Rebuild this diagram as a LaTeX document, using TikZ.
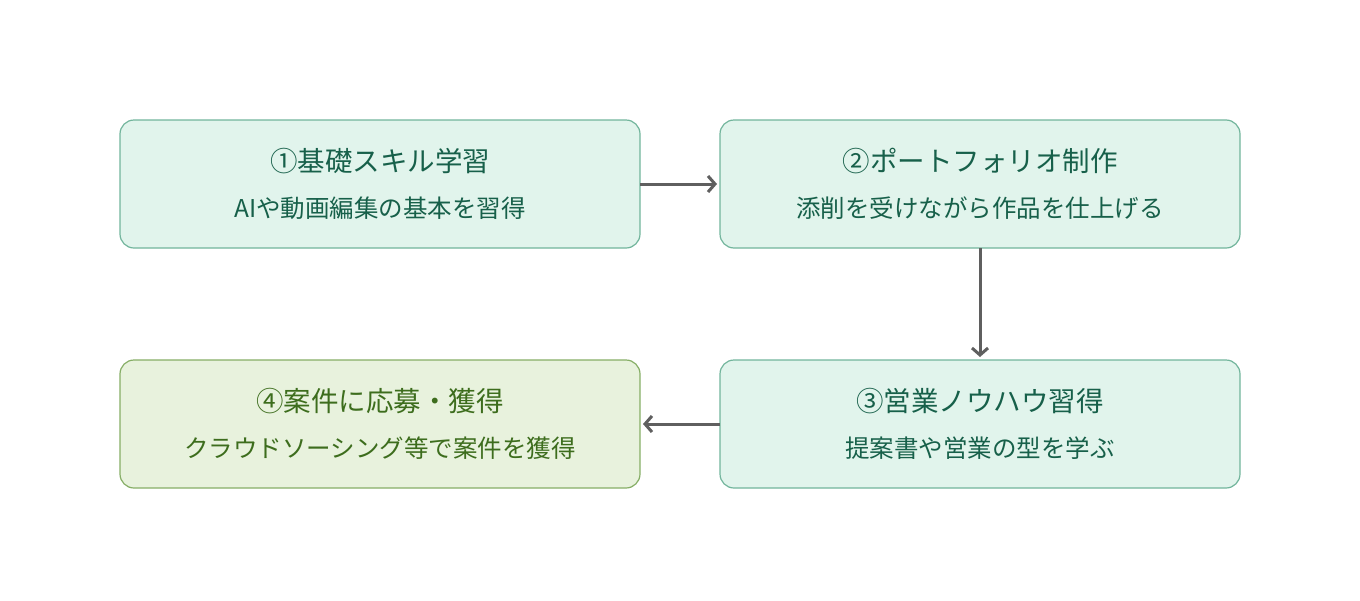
\documentclass[tikz,border=0pt]{standalone}
\usepackage{fontspec}
\setmainfont{Noto Sans CJK JP}
\usepackage{tikz}
\usetikzlibrary{arrows.meta,positioning}

\definecolor{gfill}{HTML}{E1F4EC}
\definecolor{gline}{HTML}{72B59C}
\definecolor{gtext}{HTML}{17604A}
\definecolor{ofill}{HTML}{E8F2DD}
\definecolor{oline}{HTML}{86AE66}
\definecolor{otext}{HTML}{3D6D1D}
\definecolor{arrgray}{HTML}{5F5F5F}

\begin{document}
\begin{tikzpicture}[
      x=1pt, y=1pt, node distance=112pt and 80pt,
      stepbox/.style={draw=gline, fill=gfill, line width=1.2pt, rounded corners=14pt,
        minimum width=520pt, minimum height=128pt, inner sep=0pt, outer sep=0pt},
      goalbox/.style={stepbox, draw=oline, fill=ofill},
      ttl/.style={text=gtext, font=\fontsize{27.5}{32}\selectfont, inner sep=0pt, anchor=center},
      sub/.style={text=gtext, font=\fontsize{24.5}{29}\selectfont, inner sep=0pt, anchor=center},
      arr/.style={-{Straight Barb[length=7pt,width=16pt]}, line width=3pt, draw=arrgray,
        shorten >=3pt},
    ]
    \path[use as bounding box] (0,0) rectangle (1360,-600);
    \node[stepbox] (s1) at (380,-184) {};
    \node[stepbox, right=of s1] (s2) {};
    \node[stepbox, below=of s2] (s3) {};
    \node[goalbox, left=of s3] (s4) {};
    \node[ttl] (s1t) at ([yshift=23pt]s1.center) {①基礎スキル学習};
    \node[sub] (s1s) at ([yshift=-24pt]s1.center) {AIや動画編集の基本を習得};
    \node[ttl] (s2t) at ([yshift=23pt]s2.center) {②ポートフォリオ制作};
    \node[sub] (s2s) at ([yshift=-24pt]s2.center) {添削を受けながら作品を仕上げる};
    \node[ttl] (s3t) at ([yshift=23pt]s3.center) {③営業ノウハウ習得};
    \node[sub] (s3s) at ([yshift=-24pt]s3.center) {提案書や営業の型を学ぶ};
    \node[ttl, text=otext] (s4t) at ([yshift=23pt]s4.center) {④案件に応募・獲得};
    \node[sub, text=otext] (s4s) at ([yshift=-24pt]s4.center) {クラウドソーシング等で案件を獲得};
    \draw[arr] (s1) -- (s2);
    \draw[arr] (s2) -- (s3);
    \draw[arr] (s3) -- (s4);
  \end{tikzpicture}
\end{document}
